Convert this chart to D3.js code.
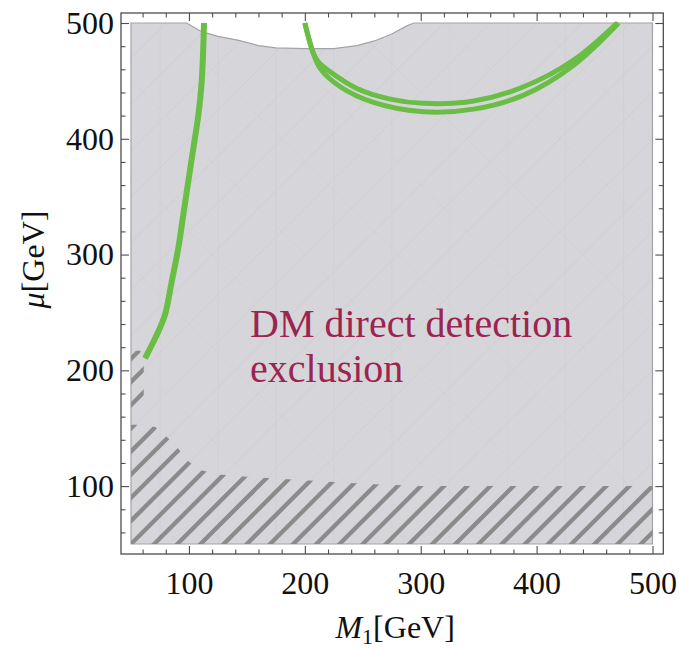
<!DOCTYPE html>
<html>
<head>
<meta charset="utf-8">
<script src="https://cdn.jsdelivr.net/npm/d3@7"></script>
<style>
  html, body { margin: 0; padding: 0; background: #ffffff; }
  svg { display: block; }
  text { font-family: "Liberation Serif", "Times New Roman", serif; }
</style>
</head>
<body>
<div id="chart"></div>
<script>
// ---------------- DATA ----------------
const xDomain = [50, 500];
const yDomain = [50, 500];
const majorTicks = [100, 200, 300, 400, 500];
const minorTicks = [60, 80, 120, 140, 160, 180, 220, 240, 260, 280, 320, 340, 360, 380, 420, 440, 460, 480];

// top boundary of the excluded (grey) region: the white notch at mu ~ 480
const notchM1 = [50, 98, 104, 111, 125, 143, 160, 175, 200, 225, 245, 260, 275, 288, 294, 500];
const notchMu = [500, 500, 496.5, 492.5, 488.5, 485, 480.5, 478.5, 477.8, 477.8, 480.5, 484.5, 490.5, 497.5, 500, 500];

// hatched region (low mu)
const hatchM1 = [50, 500, 500, 300, 250, 200, 150, 125, 110, 100, 92, 82, 71, 60, 50];
const hatchMu = [50, 50, 100, 100, 102, 105, 108, 110, 114, 121, 131, 141.5, 151, 153, 153];
// small hatched sliver at low M1
const sliverM1 = [50, 61, 61, 58, 50];
const sliverMu = [163, 166, 205, 217, 217];

// green contours
const leftM1 = [62.1, 72.2, 79.3, 85.1, 90.8, 95.1, 99.4, 103.8, 108.1, 111.0, 113.0];
const leftMu = [210.4, 230.5, 247.8, 276.5, 305.4, 334.2, 362.9, 391.8, 420.5, 449.3, 500];

const outerM1 = [200, 207.4, 213.2, 230.5, 259.2, 302.4, 345.6, 388.8, 432, 470.8];
const outerMu = [500, 473.7, 460.8, 444.9, 431.4, 423.3, 425.6, 437.7, 463.6, 500];

const innerM1 = [200, 207.4, 212, 221.8, 244.9, 273.7, 302.4, 345.6, 388.8, 432, 469.4];
const innerMu = [500, 473.7, 466, 457.9, 443.5, 434.3, 430.6, 432.6, 444.9, 468, 500];

const labelLines = ["DM direct detection", "exclusion"];

// ---------------- CHART ----------------
const W = 679, H = 651;
const x = d3.scaleLinear().domain(xDomain).range([131, 652.5]);
const y = d3.scaleLinear().domain(yDomain).range([544, 23]);
const pad = 10;
const fL = x.range()[0] - pad, fR = x.range()[1] + 10.8, fT = y.range()[1] - pad, fB = y.range()[0] + pad;

const svg = d3.select("#chart").append("svg").attr("width", W).attr("height", H);
const defs = svg.append("defs");

const zip = (a, b) => a.map((v, i) => [v, b[i]]);

// excluded region path: full box with notch at top
const regionPts = [[xDomain[0], yDomain[0]], [xDomain[1], yDomain[0]]]
  .concat(zip(notchM1, notchMu).reverse());
const linePx = d3.line().x(d => x(d[0])).y(d => y(d[1]));

defs.append("clipPath").attr("id", "regionClip")
  .append("path").attr("d", linePx(regionPts) + "Z");

const hatchClip = defs.append("clipPath").attr("id", "hatchClip");
hatchClip.append("path").attr("d", linePx(zip(hatchM1, hatchMu)) + "Z");
hatchClip.append("path").attr("d", linePx(zip(sliverM1, sliverMu)) + "Z");

// grey region
svg.append("path")
  .attr("d", linePx(regionPts) + "Z")
  .attr("fill", "#d6d6da")
  .attr("stroke", "none");

// faint mesh texture inside region
const mesh = svg.append("g").attr("clip-path", "url(#regionClip)");
d3.range(-460, 460, 40).forEach(dd => {
  mesh.append("path")
    .attr("d", linePx([[xDomain[0], xDomain[0] - dd], [xDomain[1], xDomain[1] - dd]]))
    .attr("stroke", "#cdcdd1").attr("stroke-width", 0.8).attr("fill", "none");
});
d3.range(-460, 1000, 80).forEach(dd => {
  mesh.append("path")
    .attr("d", linePx([[xDomain[0], dd - xDomain[0]], [xDomain[1], dd - xDomain[1]]]))
    .attr("stroke", "#d0d0d4").attr("stroke-width", 0.7).attr("fill", "none");
});
d3.range(75, 500, 50).forEach(v => {
  mesh.append("path")
    .attr("d", linePx([[v, yDomain[0]], [v, yDomain[1]]]))
    .attr("stroke", "#d0d0d4").attr("stroke-width", 0.7).attr("fill", "none");
});

// region border
svg.append("path")
  .attr("d", linePx(regionPts) + "Z")
  .attr("fill", "none")
  .attr("stroke", "#a3a3a6")
  .attr("stroke-width", 1.2);

// hatching
const hatch = svg.append("g").attr("clip-path", "url(#hatchClip)");
d3.range(-440, 460, 20).forEach(dd => {
  hatch.append("path")
    .attr("d", linePx([[xDomain[0] - 50, xDomain[0] - 50 - dd], [xDomain[1] + 50, xDomain[1] + 50 - dd]]))
    .attr("stroke", "#8b8b8b").attr("stroke-width", 4.3).attr("fill", "none");
});

// green curves
const curve = d3.line().x(d => x(d[0])).y(d => y(d[1])).curve(d3.curveCatmullRom.alpha(0.5));
const green = "#6abd45";
[[leftM1, leftMu, 6], [outerM1, outerMu, 5], [innerM1, innerMu, 5]].forEach(([a, b, w]) => {
  svg.append("path")
    .attr("d", curve(zip(a, b)))
    .attr("fill", "none").attr("stroke", green)
    .attr("stroke-width", w).attr("stroke-linecap", "butt");
});

// label
const lblX = x(152.7);
const lbl = svg.append("text").attr("x", lblX).attr("y", 337)
  .attr("fill", "#9c2450").attr("font-size", 40);
labelLines.forEach((t, i) => {
  lbl.append("tspan").attr("x", lblX).attr("dy", i === 0 ? 0 : 45).text(t);
});

// frame
svg.append("rect")
  .attr("x", fL).attr("y", fT).attr("width", fR - fL).attr("height", fB - fT)
  .attr("fill", "none").attr("stroke", "#4d4d4d").attr("stroke-width", 1.3);

const tickColor = "#4d4d4d";
function styleAxis(g, showLabels) {
  g.select(".domain").remove();
  g.selectAll(".tick line").attr("stroke", tickColor).attr("stroke-width", 1.1);
  g.selectAll(".tick text")
    .attr("fill", "#111")
    .attr("font-size", 32)
    .attr("font-family", "'Liberation Serif', 'Times New Roman', serif");
  if (!showLabels) g.selectAll(".tick text").remove();
}

// bottom
svg.append("g").attr("transform", `translate(0,${fB})`)
  .call(d3.axisBottom(x).tickValues(majorTicks).tickSize(-8).tickPadding(17).tickFormat(d3.format("d")))
  .call(g => styleAxis(g, true));
svg.append("g").attr("transform", `translate(0,${fB})`)
  .call(d3.axisBottom(x).tickValues(minorTicks).tickSize(-4.5).tickFormat(""))
  .call(g => styleAxis(g, false));
// top
svg.append("g").attr("transform", `translate(0,${fT})`)
  .call(d3.axisTop(x).tickValues(majorTicks).tickSize(-8).tickFormat(""))
  .call(g => styleAxis(g, false));
svg.append("g").attr("transform", `translate(0,${fT})`)
  .call(d3.axisTop(x).tickValues(minorTicks).tickSize(-4.5).tickFormat(""))
  .call(g => styleAxis(g, false));
// left
svg.append("g").attr("transform", `translate(${fL},0)`)
  .call(d3.axisLeft(y).tickValues(majorTicks).tickSize(-8).tickPadding(7).tickFormat(d3.format("d")))
  .call(g => styleAxis(g, true));
svg.append("g").attr("transform", `translate(${fL},0)`)
  .call(d3.axisLeft(y).tickValues(minorTicks).tickSize(-4.5).tickFormat(""))
  .call(g => styleAxis(g, false));
// right
svg.append("g").attr("transform", `translate(${fR},0)`)
  .call(d3.axisRight(y).tickValues(majorTicks).tickSize(-8).tickFormat(""))
  .call(g => styleAxis(g, false));
svg.append("g").attr("transform", `translate(${fR},0)`)
  .call(d3.axisRight(y).tickValues(minorTicks).tickSize(-4.5).tickFormat(""))
  .call(g => styleAxis(g, false));

// axis titles
const xt = svg.append("text").attr("x", (fL + fR) / 2 + 3).attr("y", 638)
  .attr("text-anchor", "middle").attr("font-size", 32).attr("fill", "#111");
xt.append("tspan").attr("font-style", "italic").text("M");
xt.append("tspan").attr("font-size", 22).attr("dy", 6).text("1");
xt.append("tspan").attr("dy", -6).text("[GeV]");

const yt = svg.append("text").attr("transform", `translate(44,${(fT + fB) / 2 - 24}) rotate(-90)`)
  .attr("text-anchor", "middle").attr("font-size", 32).attr("fill", "#111");
yt.append("tspan").attr("font-style", "italic").text("μ");
yt.append("tspan").text("[GeV]");
</script>
</body>
</html>
